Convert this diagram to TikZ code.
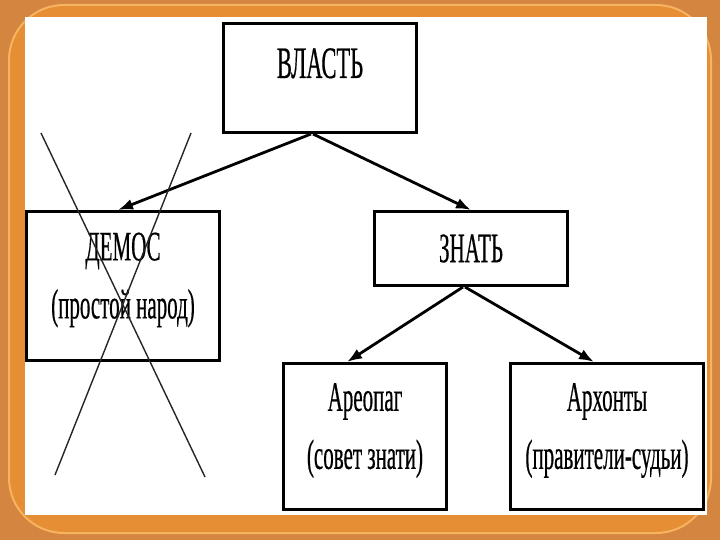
\documentclass[tikz,border=0pt]{standalone}
\usepackage{fontspec}
\setmainfont{Liberation Serif}[FakeStretch=0.5,FakeBold=0.4]
\usetikzlibrary{arrows.meta}
\definecolor{wood}{RGB}{212,134,64}
\definecolor{band}{RGB}{246,180,96}
\definecolor{bandfill}{RGB}{230,142,52}
\begin{document}
\begin{tikzpicture}[x=1pt,y=-1pt,
	box/.style={draw,line width=3pt,align=center,inner sep=0pt,font=\fontsize{42}{58}\selectfont},
	twoline/.style={text depth=21pt},
	link/.style={line width=2.8pt,-{Latex[length=15pt,width=11pt]}}]
	\useasboundingbox (0,0) rectangle (720,540);
	\fill[wood] (0,0) rectangle (720,540);
	\draw[band,fill=bandfill,line width=2pt,rounded corners=55pt] (9,5) rectangle (711,533);
	\fill[white] (25,17) rectangle (707,515);

	\node[box,minimum width=193pt,minimum height=109pt,text height=0pt,text depth=0pt,font=\fontsize{45}{58}\selectfont] (vlast) at (320,78) {ВЛАСТЬ};
	\node[box,twoline,minimum width=193pt,minimum height=149pt] (demos) at (123,286) {ДЕМОС\\(простой народ)};
	\node[box,minimum width=193pt,minimum height=74pt] (znat) at (471,248.5) {\raisebox{-4pt}{ЗНАТЬ}};
	\node[box,twoline,minimum width=163pt,minimum height=146pt] (areopag) at (365,436.5) {Ареопаг\\(совет знати)};
	\node[box,twoline,minimum width=193pt,minimum height=146pt] (arhont) at (607,436.5) {Архонты\\(правители-судьи)};

	\draw[link] ([xshift=-9pt]vlast.south)--([xshift=-5pt]demos.north);
	\draw[link] ([xshift=-7pt]vlast.south)--(znat.north);
	\draw[link] ([xshift=-8pt]znat.south)--([xshift=-18pt]areopag.north);
	\draw[link] ([xshift=-6pt]znat.south)--([xshift=-13pt]arhont.north);

	\path
	(41,133) coordinate (X1)
	(205,477) coordinate (X2)
	(191,133) coordinate (Y1)
	(55,475) coordinate (Y2);

	\draw[line width=1.4pt,black!85]
	(X1)--(X2)
	(Y1)--(Y2);
\end{tikzpicture}
\end{document}
